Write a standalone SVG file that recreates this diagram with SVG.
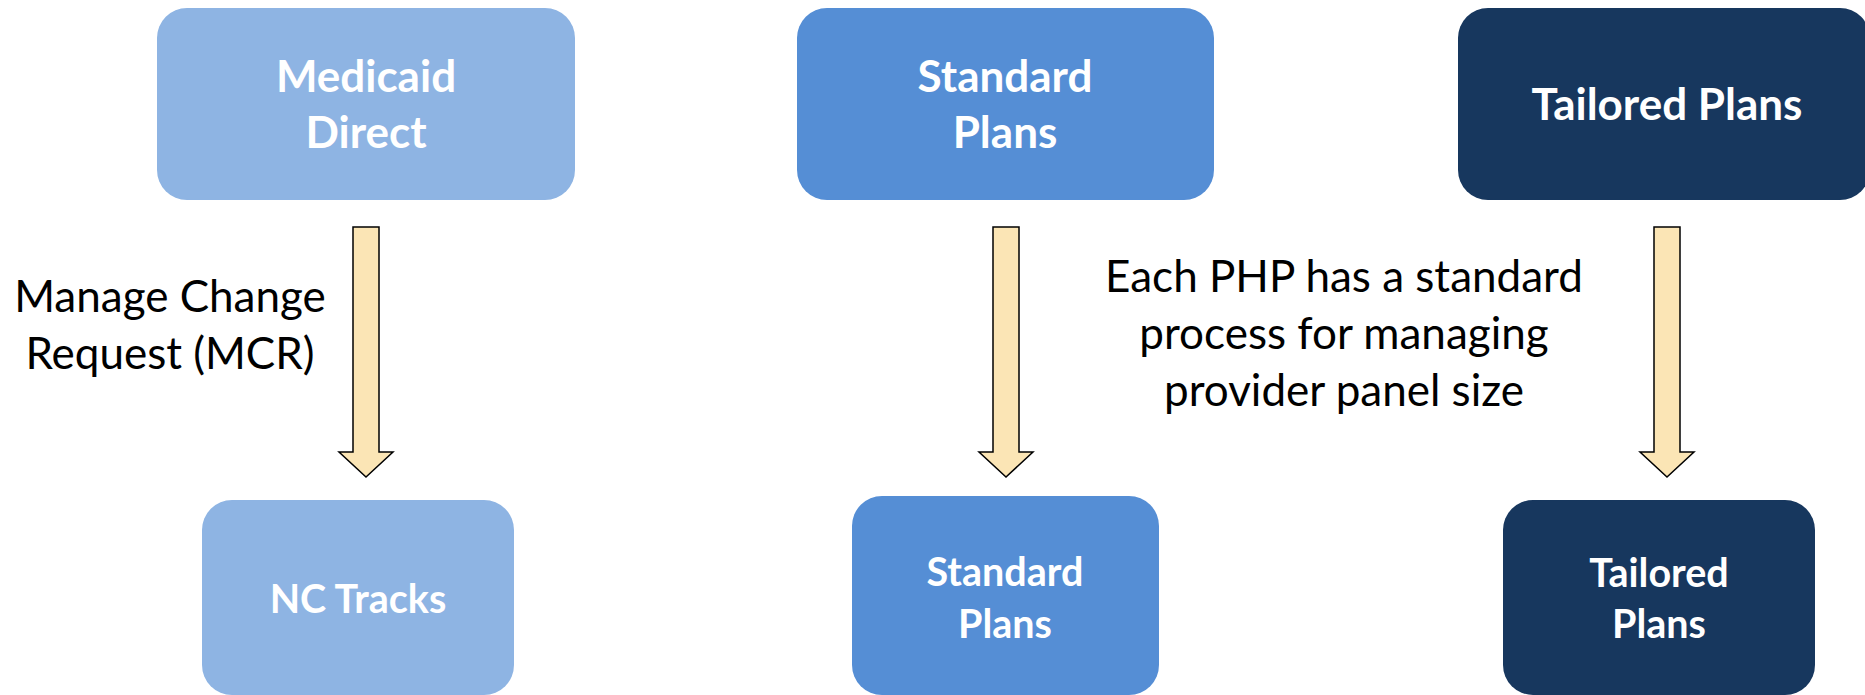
<svg xmlns="http://www.w3.org/2000/svg" width="1865" height="695" viewBox="0 0 1865 695">
<style>
.box-light{fill:#8EB4E3;}
.box-mid{fill:#558ED5;}
.box-dark{fill:#17375E;}
.lbl{font-family:Lato,"Open Sans","Liberation Sans",sans-serif;font-weight:bold;fill:#FFFFFF;text-anchor:middle;}
.big{font-size:44px;}
.small{font-size:39.5px;}
.note{font-family:Lato,"Open Sans","Liberation Sans",sans-serif;font-size:44px;fill:#000000;text-anchor:middle;}
.arrow{fill:#FBE5B5;stroke:#000000;stroke-width:1.5;stroke-linejoin:miter;}
</style>
<rect width="1865" height="695" fill="#FFFFFF"/>
<g id="medicaid-direct">
<rect class="box-light" x="157" y="8" width="418" height="192" rx="30"/>
<text class="lbl big" x="366" y="92">Medicaid</text>
<text class="lbl big" x="366" y="148">Direct</text>
</g>
<g id="standard-plans-top">
<rect class="box-mid" x="797" y="8" width="417" height="192" rx="30"/>
<text class="lbl big" x="1005" y="92">Standard</text>
<text class="lbl big" x="1005" y="148">Plans</text>
</g>
<g id="tailored-plans-top">
<rect class="box-dark" x="1458" y="8" width="412" height="192" rx="30"/>
<text class="lbl big" x="1667" y="120">Tailored Plans</text>
</g>
<g id="nc-tracks">
<rect class="box-light" x="202" y="500" width="312" height="195" rx="30"/>
<text class="lbl small" x="358" y="613">NC Tracks</text>
</g>
<g id="standard-plans-bottom">
<rect class="box-mid" x="852" y="496" width="307" height="199" rx="30"/>
<text class="lbl small" x="1005" y="586">Standard</text>
<text class="lbl small" x="1005" y="638">Plans</text>
</g>
<g id="tailored-plans-bottom">
<rect class="box-dark" x="1503" y="500" width="312" height="195" rx="30"/>
<text class="lbl small" x="1659" y="587">Tailored</text>
<text class="lbl small" x="1659" y="638">Plans</text>
</g>
<g id="connectors">
<path class="arrow" d="M353,227 H379 V452 H393 L366,477 L339,452 H353 Z"/>
<path class="arrow" d="M993,227 H1019 V452 H1033 L1006,477 L979,452 H993 Z"/>
<path class="arrow" d="M1654,227 H1680 V452 H1694 L1667,477 L1640,452 H1654 Z"/>
</g>
<g id="labels">
<text class="note" x="170" y="312">Manage Change</text>
<text class="note" x="170" y="369">Request (MCR)</text>
<text class="note" x="1344" y="292">Each PHP has a standard</text>
<text class="note" x="1344" y="349">process for managing</text>
<text class="note" x="1344" y="406">provider panel size</text>
</g>
</svg>
